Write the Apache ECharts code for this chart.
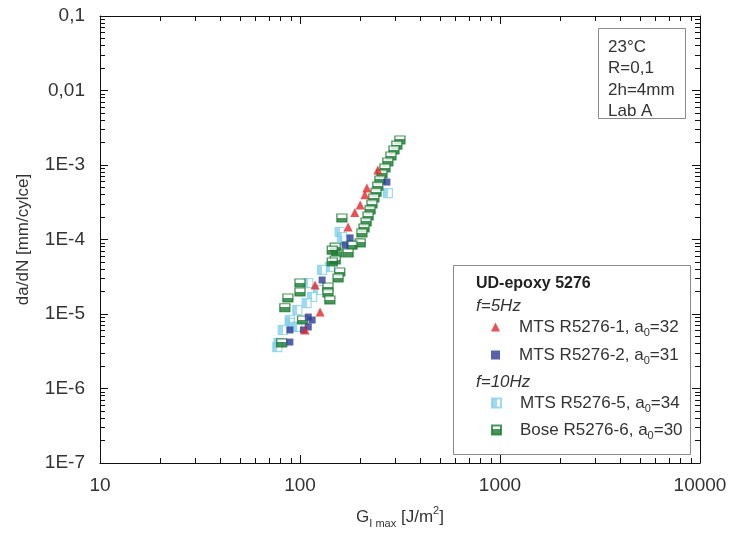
<!DOCTYPE html>
<html>
<head>
<meta charset="utf-8">
<script src="https://cdn.jsdelivr.net/npm/echarts@6/dist/echarts.min.js"></script>
<style>
  html, body { margin: 0; padding: 0; background: #ffffff; }
  #chart { width: 730px; height: 541px; }
</style>
</head>
<body>
<div id="chart"></div>
<script>
// Axis ranges (log-log)
const X_MIN = 10, X_MAX = 10000;
const Y_MIN = 1e-7, Y_MAX = 0.1;

// Decade tick labels
const xTickLabels = { '1': '10', '2': '100', '3': '1000', '4': '10000' };
const yTickLabels = { '-1': '0,1', '-2': '0,01', '-3': '1E-3', '-4': '1E-4', '-5': '1E-5', '-6': '1E-6', '-7': '1E-7' };

// Series names
const nameMts1 = 'MTS R5276-1, a0=32';
const nameMts2 = 'MTS R5276-2, a0=31';
const nameMts5 = 'MTS R5276-5, a0=34';
const nameBose6 = 'Bose R5276-6, a0=30';

// G_I max [J/m^2], da/dN [mm/cycle]
const mts1 = [
  [245, 8.6e-4], [216, 4.9e-4], [211, 4.0e-4], [200, 2.9e-4], [188, 2.3e-4],
  [174, 1.47e-4], [119, 2.45e-5], [126, 1.06e-5], [106, 6.1e-6]
];
const mts2 = [
  [272, 5.9e-4], [178, 1.05e-4], [168, 8.4e-5], [129, 2.86e-5], [115, 8.3e-6],
  [110, 9.1e-6], [110, 6.7e-6], [104, 6.1e-6], [89, 6.1e-6], [89, 4.2e-6]
];
const mts5 = [
  [275, 4.2e-4], [168, 9.8e-5], [158, 1.26e-4], [162, 1.08e-4], [141, 4.3e-5],
  [129, 3.9e-5], [123, 2.1e-5], [110, 2.6e-5], [115, 1.7e-5], [108, 1.4e-5],
  [97, 1.13e-5], [89, 8.3e-6], [89, 7.6e-6], [92, 6.7e-6], [97, 6.7e-6],
  [82, 6.1e-6], [78, 4.1e-6], [77, 3.6e-6]
];
const bose6 = [
  [316, 2.17e-3], [305, 1.85e-3], [295, 1.59e-3], [285, 1.32e-3], [275, 1.10e-3],
  [266, 9.1e-4], [257, 7.6e-4], [251, 6.3e-4], [245, 5.2e-4], [240, 4.3e-4],
  [234, 3.6e-4], [229, 3.0e-4], [224, 2.5e-4], [219, 2.07e-4], [214, 1.72e-4],
  [209, 1.43e-4], [204, 1.22e-4], [200, 9.0e-5], [182, 8.4e-5], [174, 6.6e-5],
  [153, 6.6e-5], [150, 7.9e-5], [145, 7.2e-5], [150, 5.3e-5], [145, 5.0e-5],
  [158, 3.66e-5], [155, 3.04e-5], [138, 2.3e-5], [138, 1.91e-5], [141, 1.54e-5],
  [162, 1.94e-4], [100, 2.61e-5], [100, 1.97e-5], [87, 1.64e-5], [84, 1.21e-5],
  [103, 8.3e-6], [81, 4.1e-6]
];

const RED = '#e3262b', BLUE = '#2d3b96', LIGHT = '#86d0ec', GREEN = '#1c7a32';
const FONT = '"Liberation Sans", Arial, Helvetica, sans-serif';
const AXIS_COLOR = '#111';
const TEXT_COLOR = '#333';

const logLabel = (map, v) => map[String(Math.round(Math.log10(v)))] || '';

// Shared look of the log axes: inward decade ticks plus 2..9 minor ticks
function logAxis(min, max, position, extra) {
  return Object.assign({
    type: 'log', logBase: 10, min: min, max: max, position: position,
    axisLine: { show: true, lineStyle: { color: AXIS_COLOR, width: 1 } },
    axisTick: { show: true, inside: true, length: 8, lineStyle: { color: AXIS_COLOR, width: 1 } },
    minorTick: { show: true, splitNumber: 9, length: 5, lineStyle: { color: AXIS_COLOR, width: 1 } },
    splitLine: { show: false },
    axisLabel: { show: false }
  }, extra || {});
}

const legendText = {
  fontFamily: FONT, fontSize: 17, color: TEXT_COLOR, lineHeight: 22,
  rich: {
    g: { width: 14 },
    s: { fontFamily: FONT, fontSize: 11, lineHeight: 10, verticalAlign: 'bottom', color: TEXT_COLOR }
  }
};
const legendFormatter = name => '{g| }' + name.replace('a0', 'a{s|0}');

// Framed boxes and their text lines
const boxGraphics = [
  { type: 'rect', shape: { x: 598.5, y: 28.5, width: 87, height: 90 }, style: { fill: '#fff', stroke: '#8a8a8a', lineWidth: 1 }, z: 1 },
  { type: 'text', x: 608, y: 47, style: { text: '23°C', font: '17px ' + FONT, fill: TEXT_COLOR, verticalAlign: 'middle' }, z: 2 },
  { type: 'text', x: 608, y: 68, style: { text: 'R=0,1', font: '17px ' + FONT, fill: TEXT_COLOR, verticalAlign: 'middle' }, z: 2 },
  { type: 'text', x: 608, y: 90, style: { text: '2h=4mm', font: '17px ' + FONT, fill: TEXT_COLOR, verticalAlign: 'middle' }, z: 2 },
  { type: 'text', x: 608, y: 111, style: { text: 'Lab A', font: '17px ' + FONT, fill: TEXT_COLOR, verticalAlign: 'middle' }, z: 2 },
  { type: 'rect', shape: { x: 453.5, y: 265.5, width: 237, height: 189 }, style: { fill: '#fff', stroke: '#8a8a8a', lineWidth: 1 }, z: 1 },
  { type: 'text', x: 476, y: 284, style: { text: 'UD-epoxy 5276', font: 'bold 16px ' + FONT, fill: '#222', verticalAlign: 'middle' }, z: 2 },
  { type: 'text', x: 476, y: 306, style: { text: 'f=5Hz', font: 'italic 17px ' + FONT, fill: TEXT_COLOR, verticalAlign: 'middle' }, z: 2 },
  { type: 'text', x: 476, y: 382, style: { text: 'f=10Hz', font: 'italic 17px ' + FONT, fill: TEXT_COLOR, verticalAlign: 'middle' }, z: 2 }
];

const chart = echarts.init(document.getElementById('chart'), null, { renderer: 'canvas' });

chart.setOption({
  animation: false,
  backgroundColor: '#ffffff',
  grid: { left: 100, right: 30, top: 16, bottom: 78, show: false },
  xAxis: [
    logAxis(X_MIN, X_MAX, 'bottom', {
      axisLabel: {
        show: true, fontFamily: FONT, fontSize: 19, color: TEXT_COLOR, margin: 13,
        formatter: v => logLabel(xTickLabels, v)
      },
      name: '{m|G}{s|I max}{m| [J/m}{p|2}{m|]}',
      nameLocation: 'middle',
      nameGap: 42,
      nameTextStyle: {
        rich: {
          m: { fontFamily: FONT, fontSize: 17, lineHeight: 24, color: TEXT_COLOR },
          s: { fontFamily: FONT, fontSize: 11, lineHeight: 11, verticalAlign: 'bottom', color: TEXT_COLOR },
          p: { fontFamily: FONT, fontSize: 11, lineHeight: 13, verticalAlign: 'top', color: TEXT_COLOR }
        }
      }
    }),
    logAxis(X_MIN, X_MAX, 'top')
  ],
  yAxis: [
    logAxis(Y_MIN, Y_MAX, 'left', {
      axisLabel: {
        show: true, fontFamily: FONT, fontSize: 19, color: TEXT_COLOR, margin: 15,
        formatter: v => logLabel(yTickLabels, v)
      },
      name: 'da/dN [mm/cylce]',
      nameLocation: 'middle',
      nameGap: 68,
      nameTextStyle: { fontFamily: FONT, fontSize: 17, color: TEXT_COLOR }
    }),
    logAxis(Y_MIN, Y_MAX, 'right')
  ],
  legend: [
    {
      data: [nameMts1, nameMts2],
      orient: 'vertical', left: 491, top: 316, itemWidth: 9, itemHeight: 9, itemGap: 6,
      padding: 0, selectedMode: false, formatter: legendFormatter, textStyle: legendText
    },
    {
      data: [nameMts5, nameBose6],
      orient: 'vertical', left: 491, top: 392, itemWidth: 9, itemHeight: 9, itemGap: 5,
      padding: 0, selectedMode: false, formatter: legendFormatter, textStyle: legendText
    }
  ],
  graphic: boxGraphics,
  series: [
    {
      name: nameMts5, type: 'scatter', data: mts5, symbol: 'rect', symbolSize: 9, z: 3,
      itemStyle: {
        color: new echarts.graphic.LinearGradient(0, 0, 1, 0, [
          { offset: 0, color: LIGHT }, { offset: 0.5, color: LIGHT },
          { offset: 0.5, color: '#ffffff' }, { offset: 1, color: '#ffffff' }
        ]),
        borderColor: LIGHT, borderWidth: 1.2
      }
    },
    {
      name: nameBose6, type: 'scatter', data: bose6, symbol: 'rect', symbolSize: [10, 8], z: 4,
      itemStyle: {
        color: new echarts.graphic.LinearGradient(0, 0, 0, 1, [
          { offset: 0, color: '#ffffff' }, { offset: 0.45, color: '#ffffff' },
          { offset: 0.45, color: GREEN }, { offset: 1, color: GREEN }
        ]),
        borderColor: GREEN, borderWidth: 1.2
      }
    },
    {
      name: nameMts2, type: 'scatter', data: mts2, symbol: 'rect', symbolSize: 7, z: 5,
      itemStyle: { color: BLUE }
    },
    {
      name: nameMts1, type: 'scatter', data: mts1, symbol: 'triangle', symbolSize: 9, z: 6,
      itemStyle: { color: RED }
    }
  ]
});
</script>
</body>
</html>
